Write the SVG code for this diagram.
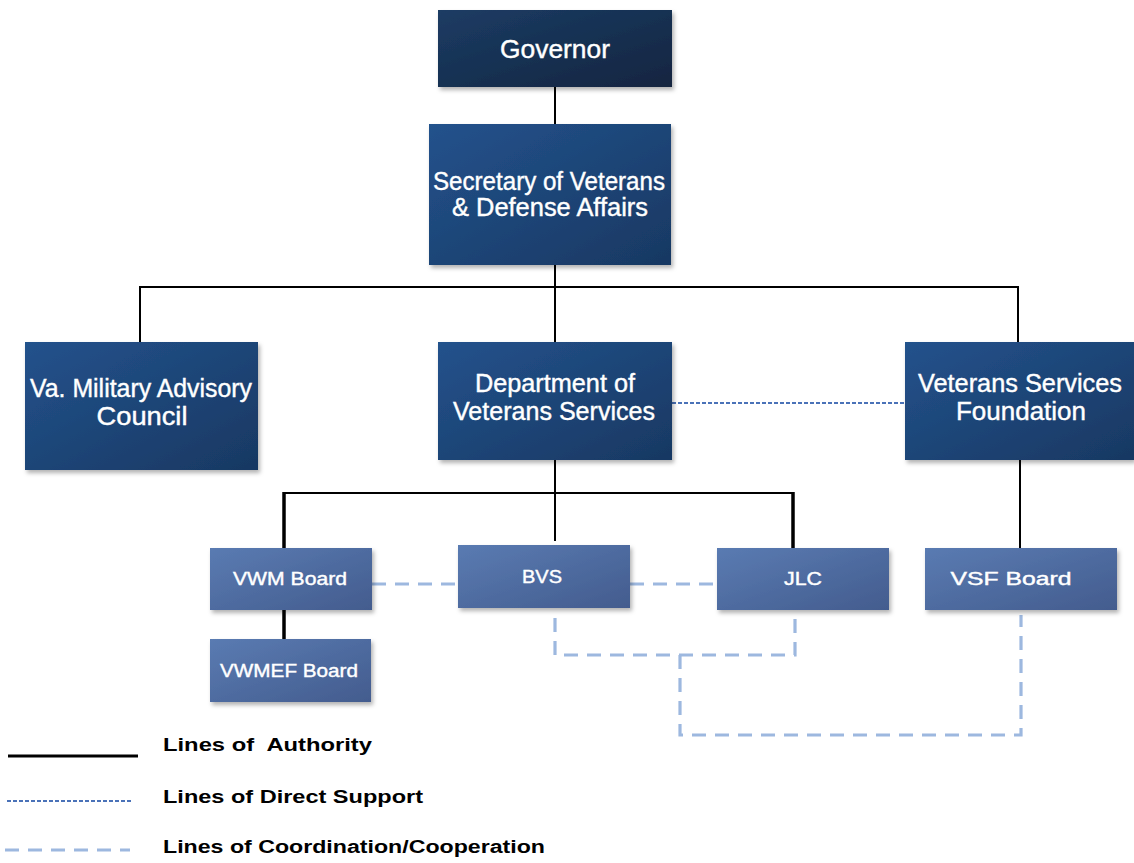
<svg xmlns="http://www.w3.org/2000/svg" width="1134" height="863" viewBox="0 0 1134 863">
<defs>
<linearGradient id="gBig" x1="0" y1="0" x2="1" y2="1">
<stop offset="0" stop-color="#23528c"/>
<stop offset="1" stop-color="#183862"/>
</linearGradient>
<linearGradient id="gGov" x1="0" y1="0" x2="1" y2="1">
<stop offset="0" stop-color="#1c3c64"/>
<stop offset="1" stop-color="#122540"/>
</linearGradient>
<linearGradient id="gSmall" x1="0" y1="0" x2="1" y2="1">
<stop offset="0" stop-color="#5a7bb2"/>
<stop offset="1" stop-color="#435c8e"/>
</linearGradient>
<filter id="sh" x="-5%" y="-5%" width="115%" height="120%">
<feDropShadow dx="2" dy="3" stdDeviation="2" flood-color="#000" flood-opacity="0.3"/>
</filter>
</defs>
<style>
.big{fill:url(#gBig);filter:url(#sh)}
.gov{fill:url(#gGov);filter:url(#sh)}
.small{fill:url(#gSmall);filter:url(#sh)}
.t{font-family:"Liberation Sans",Arial,sans-serif;fill:#fff;text-anchor:middle;stroke:#fff;stroke-width:0.4}
.tb{font-size:25px}
.ts{font-size:18px}
.auth{stroke:#000;stroke-width:2;fill:none}
.authT{stroke:#000;stroke-width:3.5;fill:none}
.sup{stroke:#4a72b8;stroke-width:2.2;stroke-dasharray:4 2;fill:none}
.coord{stroke:#9db8df;stroke-width:3.2;stroke-dasharray:14 9;fill:none}
.leg{font-family:"Liberation Sans",Arial,sans-serif;font-weight:bold;font-size:18px;fill:#000}
</style>
<rect width="1134" height="863" fill="#fff"/>
<g id="connectors">
<line class="auth" x1="555" y1="87" x2="555" y2="124"/>
<polyline class="auth" points="140,342 140,287 1018,287 1018,342"/>
<line class="auth" x1="555" y1="265" x2="555" y2="342"/>
<line class="auth" x1="555" y1="460" x2="555" y2="541"/>
<line class="auth" x1="284" y1="493" x2="793" y2="493"/>
<line class="authT" x1="284" y1="492" x2="284" y2="548"/>
<line class="authT" x1="793" y1="492" x2="793" y2="548"/>
<line class="authT" x1="284" y1="610" x2="284" y2="639"/>
<line class="auth" x1="1020" y1="460" x2="1020" y2="548"/>
<line class="sup" x1="672" y1="403" x2="905" y2="403"/>
<line class="coord" x1="372" y1="584" x2="458" y2="584"/>
<line class="coord" x1="630" y1="584" x2="717" y2="584"/>
<polyline class="coord" points="555,618 555,655 795,655 795,618"/>
<polyline class="coord" points="680,655 680,735 1021,735 1021,615"/>
</g>
<g id="governor"><rect class="gov" x="438" y="10" width="234" height="77"/><text class="t" x="555" y="58" font-size="26" textLength="110" lengthAdjust="spacingAndGlyphs">Governor</text></g>
<g id="secretary"><rect class="big" x="429" y="124" width="242" height="141"/>
<text class="t tb" x="549" y="190" textLength="232" lengthAdjust="spacingAndGlyphs">Secretary of Veterans</text>
<text class="t tb" x="550" y="216" textLength="196" lengthAdjust="spacingAndGlyphs">&amp; Defense Affairs</text></g>
<g id="vmac"><rect class="big" x="25" y="342" width="233" height="128"/>
<text class="t tb" x="141" y="397" textLength="222" lengthAdjust="spacingAndGlyphs">Va. Military Advisory</text>
<text class="t tb" x="142" y="425" textLength="91" lengthAdjust="spacingAndGlyphs">Council</text></g>
<g id="dvs"><rect class="big" x="438" y="342" width="234" height="118"/>
<text class="t tb" x="555" y="392" textLength="160" lengthAdjust="spacingAndGlyphs">Department of</text>
<text class="t tb" x="554" y="420" textLength="202" lengthAdjust="spacingAndGlyphs">Veterans Services</text></g>
<g id="vsf"><rect class="big" x="905" y="342" width="229" height="118"/>
<text class="t tb" x="1020" y="392" textLength="204" lengthAdjust="spacingAndGlyphs">Veterans Services</text>
<text class="t tb" x="1021" y="420" textLength="130" lengthAdjust="spacingAndGlyphs">Foundation</text></g>
<g id="vwm"><rect class="small" x="210" y="548" width="162" height="62"/>
<text class="t ts" x="290" y="585" textLength="114" lengthAdjust="spacingAndGlyphs">VWM Board</text></g>
<g id="bvs"><rect class="small" x="458" y="545" width="172" height="63"/>
<text class="t ts" x="542" y="583" textLength="40" lengthAdjust="spacingAndGlyphs">BVS</text></g>
<g id="jlc"><rect class="small" x="717" y="548" width="172" height="62"/>
<text class="t ts" x="803" y="585" textLength="38" lengthAdjust="spacingAndGlyphs">JLC</text></g>
<g id="vsfboard"><rect class="small" x="925" y="548" width="192" height="62"/>
<text class="t ts" x="1011" y="585" textLength="121" lengthAdjust="spacingAndGlyphs">VSF Board</text></g>
<g id="vwmef"><rect class="small" x="210" y="639" width="161" height="63"/>
<text class="t ts" x="289" y="677" textLength="138" lengthAdjust="spacingAndGlyphs">VWMEF Board</text></g>
<g id="legend">
<line x1="8" y1="756" x2="138" y2="756" stroke="#000" stroke-width="3"/>
<line class="sup" x1="7" y1="801" x2="132" y2="801"/>
<line class="coord" x1="5" y1="850" x2="130" y2="850"/>
<text class="leg" x="163" y="751" textLength="209" lengthAdjust="spacingAndGlyphs">Lines of&#160; Authority</text>
<text class="leg" x="163" y="803" textLength="260" lengthAdjust="spacingAndGlyphs">Lines of Direct Support</text>
<text class="leg" x="163" y="853" textLength="382" lengthAdjust="spacingAndGlyphs">Lines of Coordination/Cooperation</text>
</g>
</svg>
